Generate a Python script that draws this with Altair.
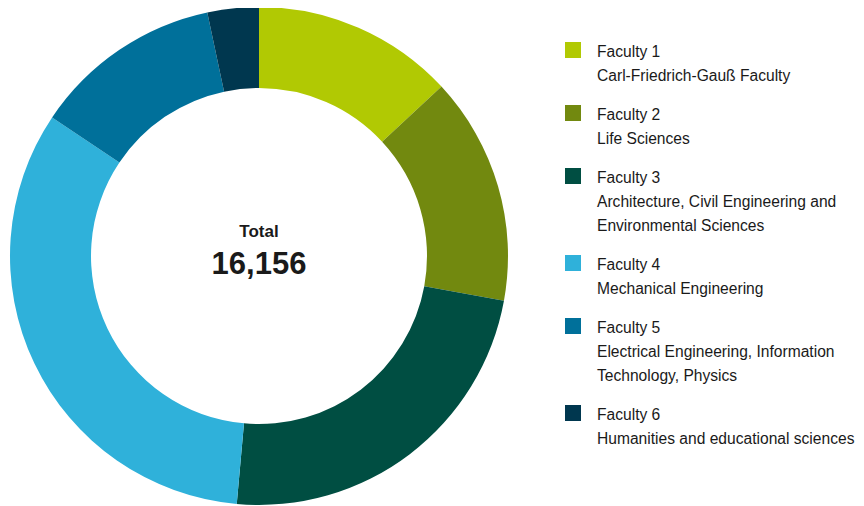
import altair as alt
import pandas as pd

faculties = ["Faculty 1", "Faculty 2", "Faculty 3", "Faculty 4", "Faculty 5", "Faculty 6"]
descriptions = [
    ["Carl-Friedrich-Gauß Faculty"],
    ["Life Sciences"],
    ["Architecture, Civil Engineering and", "Environmental Sciences"],
    ["Mechanical Engineering"],
    ["Electrical Engineering, Information", "Technology, Physics"],
    ["Humanities and educational sciences"],
]
students = [2115, 2388, 3805, 5326, 1984, 538]
colors = ["#B1C903", "#72890F", "#004E42", "#2FB1DA", "#00709A", "#00374F"]

FONT = "Arial, 'Liberation Sans', sans-serif"
TEXT_COLOR = "#1a1a1a"
W, H = 848, 498
CX, CY = 251, 248

df = pd.DataFrame({"faculty": faculties, "students": students, "idx": list(range(len(faculties)))})

# legend rows, in line units
rows = []
u = 0.0
for i, (f, desc) in enumerate(zip(faculties, descriptions)):
    rows.append({"u": u, "text": f, "faculty": f, "kind": "title"})
    for k, d in enumerate(desc):
        rows.append({"u": u + 1 + k, "text": d, "faculty": f, "kind": "desc"})
    u += 1 + len(desc) + 0.625
leg = pd.DataFrame(rows)

color_scale = alt.Scale(domain=faculties, range=colors)
y_scale = alt.Scale(domain=[-49 / 24, (H - 49) / 24], reverse=True, nice=False, zero=False)

donut = alt.Chart(df).mark_arc(innerRadius=168, outerRadius=249).encode(
    theta=alt.Theta("students:Q", stack=True),
    order=alt.Order("idx:Q"),
    color=alt.Color("faculty:N", scale=color_scale, legend=None),
    x=alt.value(CX),
    y=alt.value(CY),
)

tot = alt.Chart(df).transform_aggregate(total="sum(students)")
total_label = tot.mark_text(text="Total", font=FONT, fontSize=17, fontWeight="bold",
                            color=TEXT_COLOR, align="center", baseline="alphabetic").encode(
    x=alt.value(CX), y=alt.value(229))
total_value = tot.mark_text(font=FONT, fontSize=31, fontWeight="bold",
                            color=TEXT_COLOR, align="center", baseline="alphabetic").encode(
    x=alt.value(CX), y=alt.value(266), text=alt.Text("total:Q", format=","))

squares = alt.Chart(leg).transform_filter(alt.datum.kind == "title").mark_square(
    size=256, opacity=1, yOffset=-7).encode(
    x=alt.value(565),
    y=alt.Y("u:Q", scale=y_scale, axis=None),
    color=alt.Color("faculty:N", scale=color_scale, legend=None),
)

leg_text = alt.Chart(leg).mark_text(font=FONT, fontSize=15.6, color=TEXT_COLOR,
                                    align="left", baseline="alphabetic").encode(
    x=alt.value(589),
    y=alt.Y("u:Q", scale=y_scale, axis=None),
    text="text:N",
)

chart = alt.layer(donut, total_label, total_value, squares, leg_text).properties(
    width=W, height=H, padding=0,
    autosize=alt.AutoSizeParams(type="none"),
).configure_view(stroke=None)

chart.save("out.html", embed_options={"renderer": "svg", "actions": False})
